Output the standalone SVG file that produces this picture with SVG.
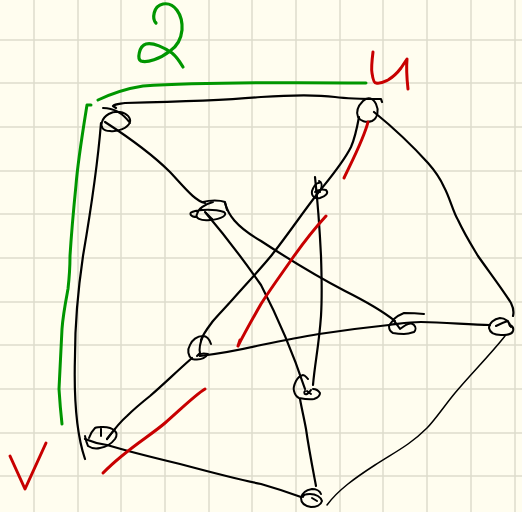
<svg xmlns="http://www.w3.org/2000/svg" width="522" height="512" viewBox="0 0 522 512">
<style>
.grid{stroke:#dedccd;stroke-width:1.5;fill:none}
path{fill:none;stroke-linecap:round;stroke-linejoin:round}
.k{stroke:#000;stroke-width:2.2}
.n{stroke:#000;stroke-width:2}
.t{stroke:#000;stroke-width:1.5}
.g{stroke:#009600;stroke-width:3}
.r{stroke:#c80000;stroke-width:3}
</style>
<rect width="522" height="512" fill="#fffdef"/>
<path class="grid" d="M34 0V512M78 0V512M121 0V512M165 0V512M209 0V512M252 0V512M296 0V512M340 0V512M383 0V512M427 0V512M471 0V512M515 0V512M0 40H522M0 83H522M0 127H522M0 171H522M0 214H522M0 258H522M0 302H522M0 345H522M0 389H522M0 433H522M0 476H522"/>
<g id="connectors">
<path class="k" d="M116 108L113 106C115 104 120 104 125 103C170 102 230 100 261 97C290 95 320 95 335 97C350 99 370 99 381 99L382 102"/>
<path class="k" d="M101 123C98 160 90 215 83 256C78 290 75 330 75 356C74 390 75 430 85 459"/>
<path class="k" d="M105 122C125 135 150 152 170 172C185 188 195 201 205 203"/>
<path class="k" d="M225 203C228 214 235 226 261 241C290 260 320 278 345 291C365 301 385 313 395 321"/>
<path class="k" d="M205 212C222 232 245 262 261 285C275 312 292 350 305 389"/>
<path class="k" d="M359 117C357 128 355 138 351 147C343 163 330 178 318 193C303 212 287 236 271 256C262 267 250 280 233 299C225 308 218 315 213 321C207 329 203 334 201 340"/>
<path class="k" d="M315 177C318 205 320 235 321 256C322 285 322 300 321 316C319 345 315 362 313 385"/>
<path class="k" d="M374 112C390 125 410 143 428 163C436 172 440 178 444 187C450 198 453 212 458 220C465 235 472 246 478 256C490 273 503 290 511 303C514 309 514 312 513 316"/>
<path class="k" d="M192 358C175 373 165 383 150 396C140 404 133 410 127 416C120 422 113 431 107 439"/>
<path class="k" d="M200 356C225 353 240 350 261 345C285 340 300 337 319 334C345 330 370 327 389 325C405 323 410 322 421 322C445 322 470 325 490 325"/>
<path class="k" d="M85 439C92 442 100 444 107 445C130 452 155 458 180 464C210 472 240 480 261 484C275 488 290 493 301 497"/>
<path class="k" d="M300 399C302 410 304 418 306 429C309 450 313 470 316 486"/>
<path class="t" d="M505 336C490 355 470 375 455 393C445 405 435 420 427 428C410 445 395 452 375 465C355 478 338 490 327 505"/>
</g>
<g id="node-a"><path class="n" d="M102 122C104 115 112 111 120 112C127 113 131 118 130 122C128 128 118 132 110 131C103 131 100 127 102 122M103 108C112 108 122 112 130 123"/></g>
<g id="node-b"><path class="n" d="M203 202C210 200 220 200 225 202L227 210M197 217C190 217 189 213 192 212C200 209 215 209 224 212C228 215 222 219 210 220C200 221 195 218 197 214C198 209 205 204 213 202M206 213L212 219"/></g>
<g id="node-c"><path class="n" d="M358 117C356 112 358 106 363 101C368 96 373 98 376 104C379 110 378 118 372 121C366 123 360 121 358 117"/></g>
<g id="node-d"><path class="n" d="M319 183C316 182 313 188 312 191C311 197 316 199 320 198C326 196 329 193 326 190C322 189 318 190 315 192M321 189C322 186 322 182 319 181M316 190L320 192"/></g>
<g id="node-e"><path class="n" d="M211 344C209 338 206 336 203 336C197 336 192 340 190 345C187 350 188 356 192 359C197 360 204 360 208 354C204 353 200 353 197 356L200 353C199 349 200 343 203 336"/></g>
<g id="node-f"><path class="n" d="M424 314C415 313 408 313 404 313C399 315 395 318 394 319C392 322 390 324 389 326C389 330 391 332 393 333C398 334 402 334 404 334C408 334 411 333 414 332C416 330 416 327 414 325C412 323 410 323 408 324C405 325 403 327 400 329C398 326 396 323 394 321"/></g>
<g id="node-g"><path class="n" d="M511 327C510 322 505 318 500 318C494 319 489 323 489 328C490 333 495 335 501 335C506 335 512 335 513 331C514 328 512 326 510 325M496 326C500 324 504 322 508 321C509 323 509 325 510 326"/></g>
<g id="node-h"><path class="n" d="M308 379C306 377 305 375 303 375C299 376 297 379 296 381C294 385 293 388 294 391C295 395 297 397 299 398C304 399 309 400 314 399C317 398 320 396 320 393C318 390 316 389 313 389M305 391C303 393 305 395 307 394C309 393 310 391 311 390M307 391L311 394"/></g>
<g id="node-i"><path class="n" d="M85 436C86 441 87 444 88 446C91 448 96 449 100 448C106 447 112 443 115 439C117 436 117 433 115 431C112 428 107 427 103 427C99 427 97 427 95 428C92 431 90 435 89 438M101 427V436M107 439L115 429"/></g>
<g id="node-j"><path class="n" d="M321 494C320 491 316 489 312 489C306 490 302 493 301 498C301 503 305 506 311 507C316 507 321 505 322 501C321 497 316 494 310 494C306 494 303 495 303 497M312 498L317 501"/></g>
<g id="labels">
<path class="g" d="M156 23C152 19 153 6 163 4C174 2 183 14 182 30C181 40 176 47 170 51C160 59 147 63 141 61C137 59 139 46 146 44C153 42 165 48 172 53C177 57 180 62 183 67" style="stroke-width:3.2"/>
<path class="g" d="M98 100C115 92 130 88 143 86C190 83 250 82 366 83"/>
<path class="g" d="M91 105L87 105C83 130 78 160 76 185C73 215 71 240 70 256C70 270 69 280 68 289C65 305 63 315 62 329C61 350 60 370 59 389C60 405 61 415 62 424"/>
<path class="r" d="M373 52C372 60 371 68 372 73C373 80 374 83 376 83C381 84 384 82 388 80C393 77 398 72 401 68C403 65 405 62 407 59C406 70 407 80 408 89"/>
<path class="r" d="M368 122C364 138 355 155 344 178"/>
<path class="r" d="M326 216C315 228 304 242 294 256C283 272 271 288 261 304C253 318 245 332 238 346L240 340"/>
<path class="r" d="M205 389C195 395 180 410 165 423C150 436 125 450 103 473"/>
<path class="r" d="M10 456L25 489L46 443"/>
</g>
</svg>
